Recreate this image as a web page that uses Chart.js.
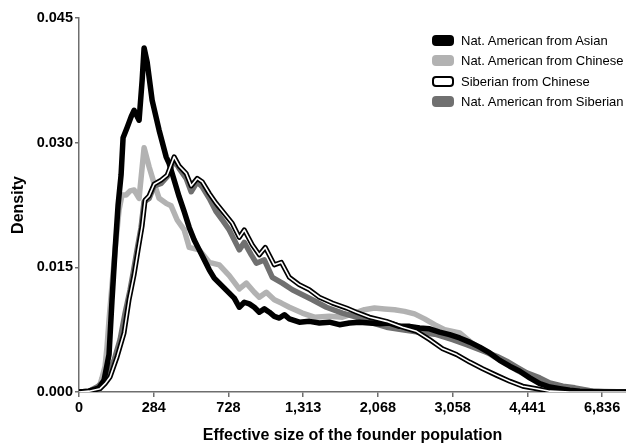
<!DOCTYPE html>
<html>
<head>
<meta charset="utf-8">
<script src="https://cdn.jsdelivr.net/npm/chart.js@4.4.1/dist/chart.umd.min.js"></script>
<style>
  body { margin: 0; background: #fff; }
  #wrap { position: relative; width: 626px; height: 445px; }
  #legend { position: absolute; left: 432px; top: 30px; font: 13px "Liberation Sans", Arial, sans-serif; color: #000; }
  #legend .row { display: flex; align-items: center; height: 20.5px; }
  #legend .box { width: 22px; height: 11px; border-radius: 4px; margin-right: 7px; box-sizing: border-box; }
</style>
</head>
<body>
<div id="wrap">
  <canvas id="chart"></canvas>
  <div id="legend"></div>
</div>
<script>
// x positions are in axis-step units: tick i sits at x = i
const tickLabels = ['0', '284', '728', '1,313', '2,068', '3,058', '4,441', '6,836'];
const seriesNames = [
    'Nat. American from Asian',
    'Nat. American from Chinese',
    'Siberian from Chinese',
    'Nat. American from Siberian'
];

const asianX = [0, 0.134, 0.268, 0.335, 0.402, 0.442, 0.483, 0.523, 0.563, 0.590, 0.643, 0.697, 0.737, 0.804, 0.845, 0.871, 0.912, 0.979,
    1.072, 1.166, 1.206, 1.273, 1.340, 1.408, 1.475, 1.542, 1.609, 1.676, 1.743, 1.810, 1.877, 1.944, 2.011, 2.078, 2.145, 2.212, 2.279,
    2.346, 2.413, 2.480, 2.547, 2.614, 2.681, 2.748, 2.815, 2.949, 3.083, 3.217, 3.351, 3.485, 3.619, 3.753, 3.887, 4.021, 4.155, 4.290,
    4.424, 4.558, 4.692, 4.826, 4.960, 5.094, 5.228, 5.362, 5.496, 5.630, 5.764, 5.898, 6.032, 6.166, 6.300, 6.434, 6.568, 6.702, 6.971, 7.319];
const asianY = [0, 0.0001, 0.0005, 0.0014, 0.0045, 0.0111, 0.0171, 0.0225, 0.0261, 0.0306, 0.0318, 0.0331, 0.0339, 0.0327, 0.0375, 0.0414, 0.0397, 0.0351,
    0.0315, 0.0283, 0.0275, 0.0255, 0.0235, 0.0217, 0.0198, 0.0183, 0.0171, 0.0159, 0.0147, 0.0137, 0.0131, 0.0125, 0.0119, 0.0113, 0.0102, 0.0108, 0.0106,
    0.0102, 0.0096, 0.0100, 0.0096, 0.0091, 0.0089, 0.0093, 0.0088, 0.0084, 0.0085, 0.0083, 0.0084, 0.0081, 0.0083, 0.0084, 0.0083, 0.0082, 0.0083, 0.0079,
    0.0079, 0.0077, 0.0076, 0.0072, 0.0069, 0.0065, 0.0060, 0.0054, 0.0047, 0.0038, 0.0031, 0.0025, 0.0017, 0.0010, 0.0006, 0.0004, 0.0002, 0.0001, 0, 0];

const chineseX = [0, 0.134, 0.268, 0.308, 0.349, 0.375, 0.402, 0.442, 0.483, 0.536, 0.576, 0.630, 0.684, 0.737, 0.804, 0.871, 0.938, 1.005,
    1.072, 1.166, 1.233, 1.314, 1.408, 1.475, 1.609, 1.743, 1.877, 2.011, 2.145, 2.239, 2.346, 2.413, 2.507, 2.614, 2.708, 2.815, 2.989,
    3.150, 3.351, 3.525, 3.686, 3.820, 3.954, 4.088, 4.223, 4.357, 4.491, 4.625, 4.759, 4.893, 5.094, 5.255, 5.402, 5.563, 5.724, 5.858,
    5.992, 6.126, 6.260, 6.394, 6.528, 6.702, 6.971, 7.319];
const chineseY = [0, 0.0001, 0.0005, 0.0017, 0.0031, 0.0054, 0.0087, 0.0129, 0.0171, 0.0219, 0.0237, 0.0237, 0.0242, 0.0243, 0.0233, 0.0294, 0.0271, 0.0251,
    0.0233, 0.0227, 0.0224, 0.0207, 0.0195, 0.0174, 0.0171, 0.0156, 0.0153, 0.0140, 0.0124, 0.0131, 0.0120, 0.0114, 0.0120, 0.0111, 0.0107, 0.0102, 0.0095,
    0.0090, 0.0091, 0.0090, 0.0095, 0.0099, 0.0101, 0.0100, 0.0099, 0.0097, 0.0094, 0.0088, 0.0081, 0.0075, 0.0071, 0.0059, 0.0051, 0.0042, 0.0035, 0.0026,
    0.0020, 0.0014, 0.0011, 0.0007, 0.0005, 0.0002, 0.0001, 0];

const sibChineseX = [0, 0.134, 0.282, 0.349, 0.416, 0.509, 0.603, 0.670, 0.737, 0.791, 0.845, 0.885, 0.938, 1.005, 1.099, 1.180, 1.273, 1.340,
    1.434, 1.501, 1.582, 1.649, 1.743, 1.836, 1.917, 2.051, 2.145, 2.212, 2.319, 2.413, 2.493, 2.614, 2.708, 2.815, 2.949, 3.083, 3.217,
    3.391, 3.579, 3.713, 3.887, 4.115, 4.330, 4.517, 4.692, 4.866, 5.054, 5.228, 5.402, 5.590, 5.764, 5.938, 6.126, 6.300, 6.568, 7.319];
const sibChineseY = [0, 0.0001, 0.0004, 0.0010, 0.0018, 0.0042, 0.0071, 0.0111, 0.0141, 0.0171, 0.0200, 0.0231, 0.0236, 0.0250, 0.0255, 0.0261, 0.0283, 0.0272,
    0.0263, 0.0248, 0.0257, 0.0253, 0.0239, 0.0227, 0.0218, 0.0203, 0.0186, 0.0195, 0.0177, 0.0165, 0.0174, 0.0153, 0.0156, 0.0138, 0.0129, 0.0123, 0.0114,
    0.0107, 0.0101, 0.0096, 0.0090, 0.0085, 0.0078, 0.0073, 0.0063, 0.0052, 0.0045, 0.0036, 0.0028, 0.0020, 0.0013, 0.0007, 0.0004, 0.0001, 0, 0];

const siberianX = [0, 0.134, 0.241, 0.322, 0.375, 0.469, 0.550, 0.617, 0.684, 0.724, 0.777, 0.831, 0.871, 0.938, 1.005, 1.099, 1.180, 1.273,
    1.340, 1.434, 1.501, 1.582, 1.649, 1.743, 1.836, 1.917, 2.011, 2.145, 2.212, 2.306, 2.373, 2.480, 2.587, 2.721, 2.855, 2.989, 3.123,
    3.311, 3.525, 3.713, 3.887, 4.115, 4.330, 4.558, 4.786, 5.000, 5.188, 5.362, 5.590, 5.724, 5.858, 5.992, 6.166, 6.300, 6.475, 6.635,
    6.877, 7.105, 7.319];
const siberianY = [0, 0.0001, 0.0006, 0.0012, 0.0018, 0.0038, 0.0063, 0.0095, 0.0123, 0.0143, 0.0171, 0.0198, 0.0229, 0.0233, 0.0248, 0.0251, 0.0259, 0.0279,
    0.0269, 0.0257, 0.0241, 0.0253, 0.0247, 0.0233, 0.0217, 0.0207, 0.0195, 0.0171, 0.0180, 0.0165, 0.0155, 0.0159, 0.0138, 0.0131, 0.0123, 0.0117, 0.0111,
    0.0102, 0.0095, 0.0090, 0.0084, 0.0078, 0.0075, 0.0072, 0.0069, 0.0063, 0.0057, 0.0051, 0.0043, 0.0037, 0.0030, 0.0023, 0.0017, 0.0011, 0.0007, 0.0005,
    0.0001, 0, 0];

const toPoints = (xs, ys) => xs.map((x, i) => ({ x: x, y: ys[i] }));

const lineStyle = {
    fill: false,
    pointRadius: 0,
    tension: 0,
    borderJoinStyle: 'round',
    borderCapStyle: 'round'
};

// lower "order" is painted on top
const datasets = [
    { ...lineStyle, label: seriesNames[0], data: toPoints(asianX, asianY), borderColor: '#000000', backgroundColor: '#000000', borderWidth: 5.5, order: 2 },
    { ...lineStyle, label: seriesNames[1], data: toPoints(chineseX, chineseY), borderColor: '#b2b2b2', backgroundColor: '#b2b2b2', borderWidth: 5.5, order: 4 },
    { ...lineStyle, label: seriesNames[2], data: toPoints(sibChineseX, sibChineseY), borderColor: '#000000', backgroundColor: '#ffffff', borderWidth: 5, order: 1 },
    { ...lineStyle, label: seriesNames[3], data: toPoints(siberianX, siberianY), borderColor: '#707070', backgroundColor: '#707070', borderWidth: 5.5, order: 3 },
    // white core of the outlined line
    { ...lineStyle, label: '', inner: true, data: toPoints(sibChineseX, sibChineseY), borderColor: '#ffffff', borderWidth: 1.6, order: 0 }
];

// legend built as html so it can sit inside the plot area
const htmlLegend = {
    id: 'htmlLegend',
    afterUpdate(chart) {
        const box = document.getElementById('legend');
        box.innerHTML = '';
        const items = chart.options.plugins.legend.labels.generateLabels(chart)
            .filter(item => !chart.data.datasets[item.datasetIndex].inner)
            .sort((a, b) => a.datasetIndex - b.datasetIndex);
        items.forEach(item => {
            const row = document.createElement('div');
            row.className = 'row';
            const swatch = document.createElement('span');
            swatch.className = 'box';
            swatch.style.background = item.fillStyle;
            swatch.style.border = '2.5px solid ' + item.strokeStyle;
            const text = document.createElement('span');
            text.textContent = item.text;
            row.appendChild(swatch);
            row.appendChild(text);
            box.appendChild(row);
        });
    }
};

const axisGrey = '#6e6e6e';
const tickFont = { family: '"Liberation Sans", Arial, sans-serif', size: 14.5, weight: 'bold' };
const titleFont = { family: '"Liberation Sans", Arial, sans-serif', size: 16, weight: 'bold' };

new Chart(document.getElementById('chart'), {
    type: 'line',
    data: { datasets: datasets },
    plugins: [htmlLegend],
    options: {
        responsive: true,
        maintainAspectRatio: false,
        animation: false,
        layout: { padding: { top: 18, right: 0, left: 0, bottom: 0 } },
        plugins: {
            legend: { display: false },
            tooltip: { enabled: false }
        },
        scales: {
            x: {
                type: 'linear',
                min: 0,
                max: 7.32,
                afterFit: scale => { scale.height = 53; },
                border: { color: axisGrey, width: 1.5 },
                grid: { drawOnChartArea: false, color: axisGrey, tickLength: 5, lineWidth: 1.5 },
                ticks: {
                    stepSize: 1,
                    includeBounds: false,
                    autoSkip: false,
                    maxRotation: 0,
                    padding: 2,
                    color: '#000',
                    font: tickFont,
                    callback: v => (Number.isInteger(v) && tickLabels[v] !== undefined) ? tickLabels[v] : ''
                },
                title: {
                    display: true,
                    text: 'Effective size of the founder population',
                    color: '#000',
                    font: titleFont,
                    padding: { top: 12, bottom: 0 }
                }
            },
            y: {
                min: 0,
                max: 0.045,
                afterFit: scale => { scale.width = 79; },
                border: { color: axisGrey, width: 1.5 },
                grid: { drawOnChartArea: false, color: axisGrey, tickLength: 4, lineWidth: 1.5 },
                ticks: {
                    stepSize: 0.015,
                    padding: 2,
                    color: '#000',
                    font: tickFont,
                    callback: v => v.toFixed(3)
                },
                title: {
                    display: true,
                    text: 'Density',
                    color: '#000',
                    font: titleFont,
                    padding: { top: 9, bottom: 0 }
                }
            }
        }
    }
});
</script>
</body>
</html>
